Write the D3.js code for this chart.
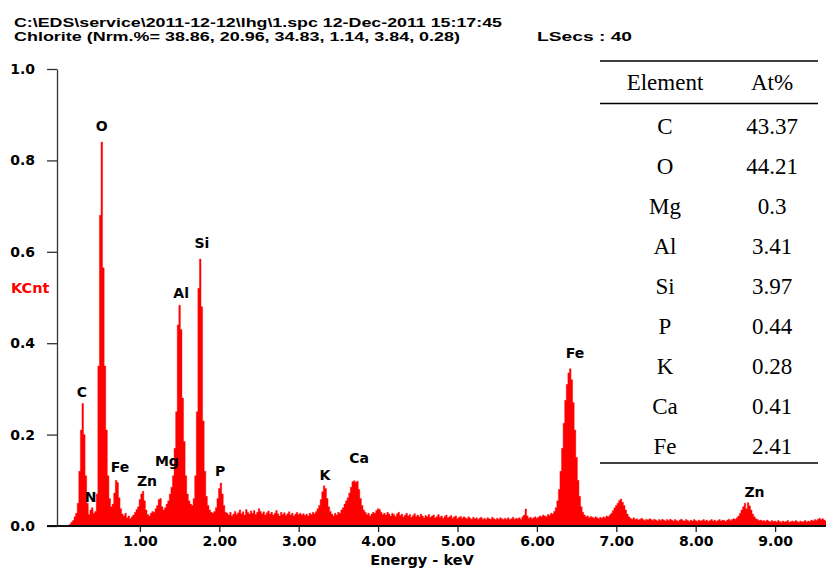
<!DOCTYPE html>
<html>
<head>
<meta charset="utf-8">
<script src="https://cdn.jsdelivr.net/npm/d3@7"></script>
<style>
  html, body { margin: 0; padding: 0; background: #fff; }
  svg { display: block; }
  .lbl { font-family: "DejaVu Sans", Verdana, sans-serif; font-weight: bold; }
  .hdr { font-family: "Liberation Sans", Arial, sans-serif; font-weight: bold; }
  .tbl { font-family: "Liberation Serif", "Times New Roman", serif; }
</style>
</head>
<body>
<div id="chart"></div>
<script>
// EDS spectrum, channel width 0.02 keV starting at 0.10 keV, counts (1000 = 1.0 KCnt)
const channelStart = 0.10;
const channelWidth = 0.02;
const counts = [
  // 0.10 - 0.58
  0, 4, 8, 12, 20, 28, 50, 120, 210, 268, 200, 110, 50, 25, 35, 40, 28, 32, 70, 350, 680, 840, 565, 350, 210,
  // 0.60 - 1.08
  110, 60, 42, 48, 72, 100, 95, 62, 38, 26, 22, 28, 18, 22, 16, 20, 24, 30, 36, 42, 58, 70, 76, 55, 35,
  // 1.10 - 1.58
  25, 22, 28, 32, 30, 38, 45, 58, 60, 42, 35, 40, 48, 55, 70, 85, 110, 170, 250, 440, 483, 430, 280, 185, 110,
  // 1.60 - 2.08
  70, 55, 48, 45, 60, 110, 250, 520, 584, 480, 230, 120, 65, 45, 35, 30, 28, 32, 40, 60, 82, 94, 70, 45, 30,
  // 2.10 - 2.58
  28, 24, 30, 22, 26, 32, 25, 29, 35, 27, 31, 24, 36, 30, 26, 33, 28, 34, 25, 30, 38, 32, 27, 31, 24,
  // 2.60 - 3.08
  29, 33, 26, 30, 24, 28, 34, 27, 22, 30, 25, 29, 23, 27, 31, 24, 28, 22, 26, 30, 25, 28, 24, 27, 23,
  // 3.10 - 3.58
  26, 22, 28, 25, 30, 27, 32, 38, 45, 58, 75, 88, 82, 60, 42, 32, 26, 22, 28, 24, 30, 28, 35, 40, 48,
  // 3.60 - 4.08
  55, 62, 72, 85, 97, 99, 96, 98, 80, 60, 45, 35, 30, 25, 28, 22, 26, 30, 28, 34, 38, 36, 30, 25, 28,
  // 4.10 - 4.58
  24, 30, 26, 22, 28, 25, 21, 27, 30, 23, 26, 20, 24, 28, 22, 25, 19, 23, 27, 21, 24, 20, 26, 22, 18,
  // 4.60 - 5.08
  23, 20, 25, 19, 22, 24, 18, 21, 25, 19, 22, 17, 21, 24, 18, 20, 23, 17, 20, 22, 16, 19, 21, 17, 20,
  // 5.10 - 5.58
  18, 16, 20, 17, 15, 19, 16, 18, 14, 17, 19, 15, 17, 14, 18, 16, 15, 19, 16, 14, 17, 15, 18, 16, 14,
  // 5.60 - 6.08
  17, 15, 18, 14, 16, 19, 15, 17, 16, 18, 15, 20, 24, 37, 22, 17, 19, 16, 18, 20, 17, 19, 22, 20, 24,
  // 6.10 - 6.58
  22, 20, 25, 23, 28, 26, 32, 40, 55, 80, 120, 170, 225, 275, 310, 335, 344, 320, 270, 210, 150, 100, 65, 42, 30,
  // 6.60 - 7.08
  24, 20, 22, 18, 21, 19, 17, 20, 18, 16, 19, 17, 20, 18, 22, 20, 24, 28, 34, 40, 45, 50, 56, 59, 52,
  // 7.10 - 7.58
  45, 35, 26, 20, 17, 15, 18, 14, 16, 13, 15, 17, 14, 12, 15, 13, 16, 14, 12, 15, 13, 11, 14, 12, 15,
  // 7.60 - 8.08
  13, 11, 14, 12, 15, 13, 11, 14, 12, 10, 13, 15, 12, 11, 14, 12, 10, 13, 11, 14, 12, 10, 13, 11, 12,
  // 8.10 - 8.58
  14, 11, 13, 10, 12, 14, 11, 13, 10, 12, 14, 11, 13, 12, 10, 13, 15, 12, 14, 16, 15, 18, 22, 28, 35,
  // 8.60 - 9.08
  42, 50, 38, 51, 44, 35, 26, 20, 16, 14, 12, 13, 11, 12, 10, 13, 11, 9, 12, 10, 11, 9, 12, 10, 8,
  // 9.10 - 9.58
  11, 9, 10, 12, 8, 10, 11, 9, 12, 10, 8, 11, 9, 10, 12, 9, 11, 10, 13, 11, 14, 12, 15, 17, 14,
  // 9.60 - 9.68
  16, 13, 11, 12, 10
];

// peak labels: element, line energy (keV), label height (KCnt)
const peakElements = ["C", "N", "O", "Fe", "Zn", "Mg", "Al", "Si", "P", "K", "Ca", "Fe", "Zn"];
const peakEnergies = [0.27, 0.38, 0.52, 0.75, 1.09, 1.34, 1.52, 1.78, 2.01, 3.33, 3.76, 6.48, 8.74];
const peakLabelLevels = [0.293, 0.064, 0.876, 0.129, 0.098, 0.142, 0.509, 0.619, 0.12, 0.112, 0.149, 0.379, 0.074];

const yTicks = [0, 0.2, 0.4, 0.6, 0.8, 1.0];
const xTicks = [1, 2, 3, 4, 5, 6, 7, 8, 9];

const headerLines = [
  "C:\\EDS\\service\\2011-12-12\\lhg\\1.spc  12-Dec-2011 15:17:45",
  "Chlorite (Nrm.%= 38.86, 20.96, 34.83, 1.14, 3.84, 0.28)"
];
const liveSecs = "LSecs :  40";

// composition table
const tableElements = ["C", "O", "Mg", "Al", "Si", "P", "K", "Ca", "Fe"];
const tableAtPct = ["43.37", "44.21", "0.3", "3.41", "3.97", "0.44", "0.28", "0.41", "2.41"];

const W = 826, H = 570;
const red = "#ff0000";

const svg = d3.select("#chart").append("svg").attr("width", W).attr("height", H);
svg.append("rect").attr("width", W).attr("height", H).attr("fill", "#fff");

const x = d3.scaleLinear().domain([0, 9.65]).range([60.5, 60.5 + 9.65 * 79.4]);
const y = d3.scaleLinear().domain([0, 1]).range([526, 69]);

const spectrum = counts.map((c, i) => ({ e: channelStart + i * channelWidth, k: c / 1000 }));

svg.append("clipPath").attr("id", "plotClip")
  .append("rect").attr("x", 57).attr("y", 0).attr("width", W - 57).attr("height", 526);

const area = d3.area()
  .x((d) => x(d.e))
  .y0(y(0))
  .y1((d) => y(d.k))
  .curve(d3.curveStep);

svg.append("path")
  .datum(spectrum)
  .attr("clip-path", "url(#plotClip)")
  .attr("fill", red)
  .attr("stroke", red)
  .attr("stroke-width", 0.4)
  .attr("d", area);

// y axis
const yAxis = svg.append("g")
  .attr("transform", "translate(57,0)")
  .call(d3.axisLeft(y).tickValues(yTicks).tickFormat(d3.format(".1f")).tickSize(10).tickSizeOuter(0).tickPadding(12));
yAxis.select(".domain").attr("stroke", "#333").attr("stroke-width", 1.3);
yAxis.selectAll(".tick line").attr("stroke", "#333").attr("stroke-width", 1.3);
yAxis.selectAll(".tick text")
  .attr("class", "lbl").attr("fill", "#000").style("font-size", "14px");

// x axis
const xAxis = svg.append("g")
  .attr("transform", "translate(0,526)")
  .call(d3.axisBottom(x).tickValues(xTicks).tickFormat(d3.format(".2f")).tickSize(6).tickPadding(4));
xAxis.select(".domain").remove();
xAxis.selectAll(".tick line").attr("stroke", "#222").attr("stroke-width", 1.3);
xAxis.selectAll(".tick text")
  .attr("class", "lbl").attr("fill", "#000").style("font-size", "14px");

svg.append("line")
  .attr("x1", 47).attr("x2", W).attr("y1", 526).attr("y2", 526)
  .attr("stroke", "#111").attr("stroke-width", 2);

// axis titles
svg.append("text").attr("class", "lbl")
  .attr("x", 11).attr("y", 293)
  .attr("fill", red).style("font-size", "14.5px")
  .text("KCnt");

svg.append("text").attr("class", "lbl")
  .attr("x", 422).attr("y", 565)
  .attr("text-anchor", "middle").style("font-size", "14.5px")
  .text("Energy - keV");

// peak labels
svg.append("g").selectAll("text")
  .data(peakElements)
  .join("text")
  .attr("class", "lbl")
  .attr("x", (d, i) => x(peakEnergies[i]))
  .attr("y", (d, i) => y(peakLabelLevels[i]))
  .attr("dy", "0.36em")
  .attr("text-anchor", "middle")
  .style("font-size", "14px")
  .text((d) => d);

// header
svg.append("text").attr("class", "hdr")
  .attr("x", 14).attr("y", 27)
  .attr("textLength", 488).attr("lengthAdjust", "spacingAndGlyphs")
  .style("font-size", "13px")
  .text(headerLines[0]);
svg.append("text").attr("class", "hdr")
  .attr("x", 14).attr("y", 41)
  .attr("textLength", 446).attr("lengthAdjust", "spacingAndGlyphs")
  .style("font-size", "13px")
  .text(headerLines[1]);
svg.append("text").attr("class", "hdr")
  .attr("x", 537).attr("y", 41)
  .attr("textLength", 95).attr("lengthAdjust", "spacingAndGlyphs")
  .style("font-size", "13px")
  .text(liveSecs);

// table
const tbl = svg.append("g").attr("class", "tbl");
const colEl = 665, colAt = 772, tblX0 = 600, tblX1 = 818;
[61, 103.5, 463].forEach((ry) => {
  tbl.append("line").attr("x1", tblX0).attr("x2", tblX1).attr("y1", ry).attr("y2", ry)
    .attr("stroke", "#000").attr("stroke-width", 1.4);
});
tbl.append("text").attr("x", colEl).attr("y", 90).attr("text-anchor", "middle")
  .style("font-size", "23px").text("Element");
tbl.append("text").attr("x", colAt).attr("y", 90).attr("text-anchor", "middle")
  .style("font-size", "23px").text("At%");
const rowY = d3.scalePoint().domain(d3.range(tableElements.length)).range([134, 454]);
tbl.selectAll("text.el").data(tableElements).join("text").attr("class", "el")
  .attr("x", colEl).attr("y", (d, i) => rowY(i)).attr("text-anchor", "middle")
  .style("font-size", "23px").text((d) => d);
tbl.selectAll("text.at").data(tableAtPct).join("text").attr("class", "at")
  .attr("x", colAt).attr("y", (d, i) => rowY(i)).attr("text-anchor", "middle")
  .style("font-size", "23px").text((d) => d);
</script>
</body>
</html>
